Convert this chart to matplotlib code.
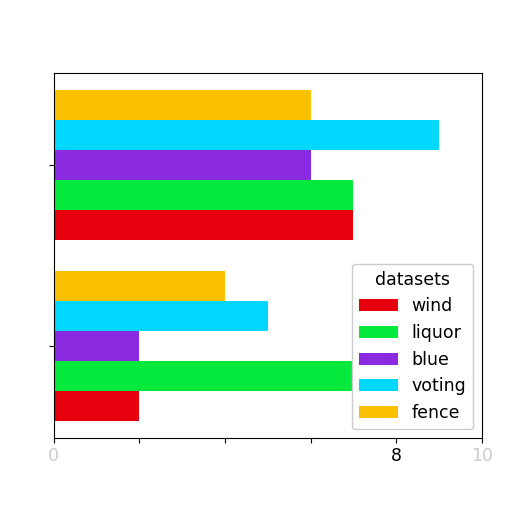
import numpy as np
import matplotlib.pyplot as plt

groups = [0, 1]
datasets = ["wind", "liquor", "blue", "voting", "fence"]
colors = ["#e6000d", "#05e83c", "#8a2be2", "#00d7ff", "#fac000"]
values = {
    "wind":   [2, 7],
    "liquor": [7, 7],
    "blue":   [2, 6],
    "voting": [5, 9],
    "fence":  [4, 6],
}
xticks = [0, 2, 4, 6, 8, 10]
xtick_labels = ["0", "", "", "", "8", "10"]

fig = plt.figure(figsize=(5.12, 5.12), dpi=100)
ax = fig.add_axes([0.105, 0.145, 0.836, 0.712])

h = 0.166
y = np.arange(len(groups))
for i, name in enumerate(datasets):
    ax.barh(y + (i - 2) * h, values[name], height=h, color=colors[i], label=name)

ax.set_xlim(0, 10)
ax.set_ylim(-0.505, 1.505)
ax.set_yticks(y)
ax.set_yticklabels(["", ""])
ax.set_xticks(xticks)
ax.set_xticklabels(xtick_labels, fontsize=12.5)
for lab in ax.get_xticklabels():
    if lab.get_text() in ("0", "10"):
        lab.set_color("#cccccc")

ax.legend(title="datasets", loc="lower right", fontsize=12.5, title_fontsize=12.5,
          framealpha=1, handlelength=2.2)

fig.savefig("out.png", dpi=100)
